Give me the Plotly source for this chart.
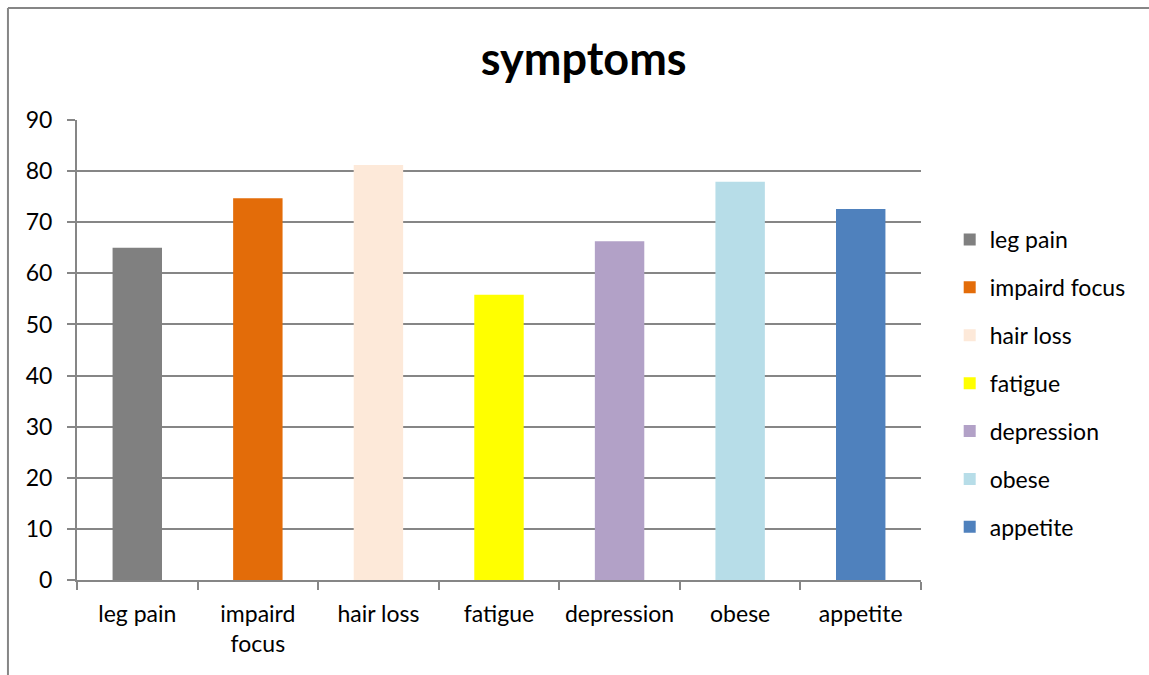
import plotly.graph_objects as go

categories = ["leg pain", "impaird focus", "hair loss", "fatigue",
              "depression", "obese", "appetite"]
tick_labels = ["leg pain", "impaird<br>focus", "hair loss", "fatigue",
               "depression", "obese", "appetite"]
values = [65.0, 74.7, 81.2, 55.8, 66.3, 77.9, 72.6]
colors = ["#808080", "#E36C09", "#FDE9D9", "#FFFF00",
          "#B2A1C7", "#B7DDE8", "#4F81BD"]

GRID = "#868686"
FONT = "Lato, Carlito, Calibri, sans-serif"

fig = go.Figure()
for i, (cat, val, col) in enumerate(zip(categories, values, colors)):
    fig.add_trace(go.Bar(
        x=[cat], y=[val], name=cat,
        marker_color=col, marker_line_width=0,
        width=0.41, legendgroup=f"g{i}",
    ))

fig.update_layout(
    width=1149, height=675,
    margin=dict(l=77, r=228, t=120, b=95, autoexpand=False),
    paper_bgcolor="white", plot_bgcolor="white",
    barmode="overlay",
    font=dict(family=FONT, size=23, color="black"),
    title=dict(text="<b>symptoms</b>", x=0.508, xanchor="center",
               y=0.912, yanchor="middle",
               font=dict(family=FONT, size=45, color="black")),
    showlegend=True,
    legend=dict(x=1.034, xanchor="left", y=0.787, yanchor="top",
                font=dict(size=23), tracegroupgap=15,
                bgcolor="rgba(0,0,0,0)"),
)

fig.update_yaxes(
    range=[0, 90], dtick=10, showgrid=True, gridcolor=GRID, gridwidth=2,
    showline=True, linecolor=GRID, linewidth=2,
    ticks="outside", ticklen=8, tickcolor=GRID, tickwidth=2,
    zeroline=False, tickfont=dict(size=23), ticklabelstandoff=10,
)
fig.update_xaxes(
    tickvals=categories, ticktext=tick_labels, tickson="boundaries",
    tickangle=0,
    showline=True, linecolor=GRID, linewidth=2,
    ticks="outside", ticklen=8, tickcolor=GRID, tickwidth=2,
    showgrid=False, tickfont=dict(size=23), ticklabelstandoff=12,
)

# chart frame (left and top edges, the rest runs off the page)
fig.add_shape(type="line", xref="paper", yref="paper",
              x0=-0.0818, x1=-0.0818, y0=-0.3, y1=1.2435,
              line=dict(color=GRID, width=2))
fig.add_shape(type="line", xref="paper", yref="paper",
              x0=-0.0818, x1=1.4, y0=1.2435, y1=1.2435,
              line=dict(color=GRID, width=2))

fig.write_html("out.html", config={"displayModeBar": False},
               post_script="document.body.style.margin='0';"
                           "document.body.style.overflow='hidden';")
